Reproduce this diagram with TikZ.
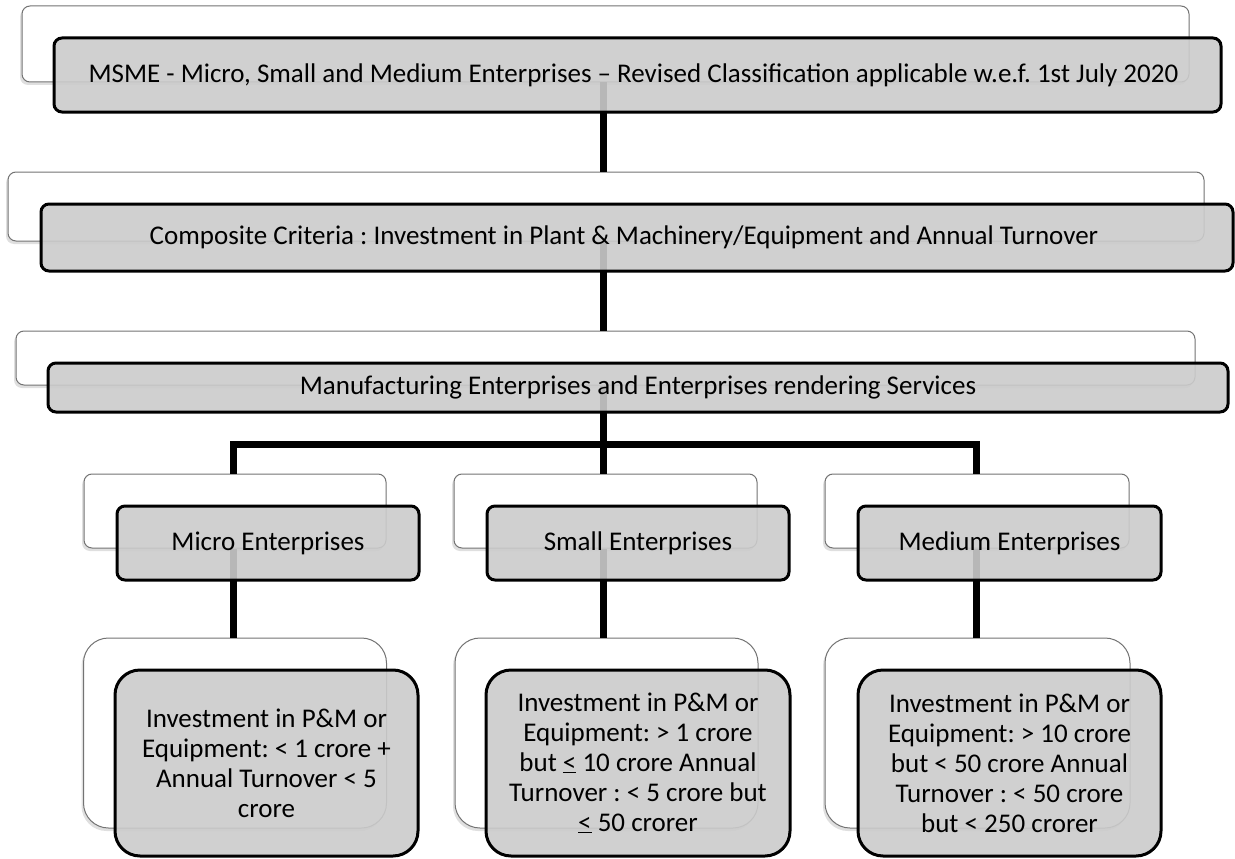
\documentclass[tikz,border=0pt]{standalone}
\usepackage{fontspec}
\setmainfont{Carlito}
\frenchspacing
\usetikzlibrary{shadows}
\definecolor{boxgrey}{HTML}{CBCBCB}
\begin{document}
\begin{tikzpicture}[x=1pt,y=-1pt,
  backbox/.style={draw=black!55, line width=1pt, fill=white, rounded corners=8pt,
    inner sep=0pt, drop shadow={shadow xshift=-2pt, shadow yshift=-3pt, opacity=0.25}},
  frontbox/.style={draw=black, line width=3pt, fill=boxgrey, fill opacity=0.9,
    text opacity=1, rounded corners=8pt, inner sep=0pt, align=center,
    font=\fontsize{27}{30}\selectfont},
  link/.style={line width=7pt, black, line join=miter}
]
\useasboundingbox (0,0) rectangle (1235,859);

% column positions of the connectors
\coordinate (sp) at (603,0);
\coordinate (bm) at (233,444);
\coordinate (bs) at (603,444);
\coordinate (bd) at (976,444);

% back (white) boxes
\node[backbox, minimum width=1167pt, minimum height=76pt] (w1) at (605.5,44) {};
\node[backbox, minimum width=1196pt, minimum height=69pt] (w2) at (606,206.5) {};
\node[backbox, minimum width=1179pt, minimum height=54pt] (w3) at (605.5,358) {};
\node[backbox, minimum width=302pt, minimum height=74pt] (wmi) at (235,511) {};
\node[backbox, minimum width=303pt, minimum height=74pt] (wsm) at (605.5,511) {};
\node[backbox, minimum width=304pt, minimum height=74pt] (wme) at (977,511) {};
\node[backbox, rounded corners=25pt, minimum width=303pt, minimum height=190pt] (wmiv) at (235,733) {};
\node[backbox, rounded corners=25pt, minimum width=303pt, minimum height=190pt] (wsmv) at (606.5,733) {};
\node[backbox, rounded corners=25pt, minimum width=305pt, minimum height=190pt] (wmev) at (977.5,733) {};

% connectors
\draw[link] (w1.south -| sp) -- (w2.north -| sp);
\draw[link] (w2.south -| sp) -- (w3.north -| sp);
\draw[link] (w3.south -| sp) -- (bs);
\draw[link] (wmi.north -| bm) -- (bm) -- (bd) -- (wme.north -| bd);
\draw[link] (bs) -- (wsm.north -| bs);
\draw[link] (wmi.south -| bm) -- (wmiv.north -| bm);
\draw[link] (wsm.south -| bs) -- (wsmv.north -| bs);
\draw[link] (wme.south -| bd) -- (wmev.north -| bd);

% front (grey) boxes
\node[frontbox, minimum width=1167pt, minimum height=74pt] (g1) at (637.5,75)
  {\hspace*{-8pt}MSME - Micro, Small and Medium Enterprises – Revised Classification applicable w.e.f. 1st July 2020};
\node[frontbox, minimum width=1192pt, minimum height=67pt] (g2) at (637,237.5)
  {\hspace*{-26pt}Composite Criteria : Investment in Plant \& Machinery/Equipment and Annual Turnover};
\node[frontbox, minimum width=1180pt, minimum height=49pt] (g3) at (638,387.5)
  {Manufacturing Enterprises and Enterprises rendering Services};
\node[frontbox, minimum width=302pt, minimum height=74pt] (gmi) at (268,543) {Micro Enterprises};
\node[frontbox, minimum width=302pt, minimum height=74pt] (gsm) at (638,543) {Small Enterprises};
\node[frontbox, minimum width=303pt, minimum height=74pt] (gme) at (1009.5,543) {Medium Enterprises};
\node[frontbox, rounded corners=25pt, minimum width=303pt, minimum height=186pt] (gmiv) at (266.5,763)
  {Investment in P\&M or\\Equipment: < 1 crore +\\Annual Turnover < 5\\crore};
\node[frontbox, rounded corners=25pt, minimum width=304pt, minimum height=186pt] (gsmv) at (638,763)
  {Investment in P\&M or\\Equipment: > 1 crore\\but \underline{<} 10 crore Annual\\Turnover : < 5 crore but\\\underline{<} 50 crorer};
\node[frontbox, rounded corners=25pt, minimum width=303pt, minimum height=186pt] (gmev) at (1009.5,763)
  {Investment in P\&M or\\Equipment: > 10 crore\\but < 50 crore Annual\\Turnover : < 50 crore\\but < 250 crorer};
\end{tikzpicture}
\end{document}
